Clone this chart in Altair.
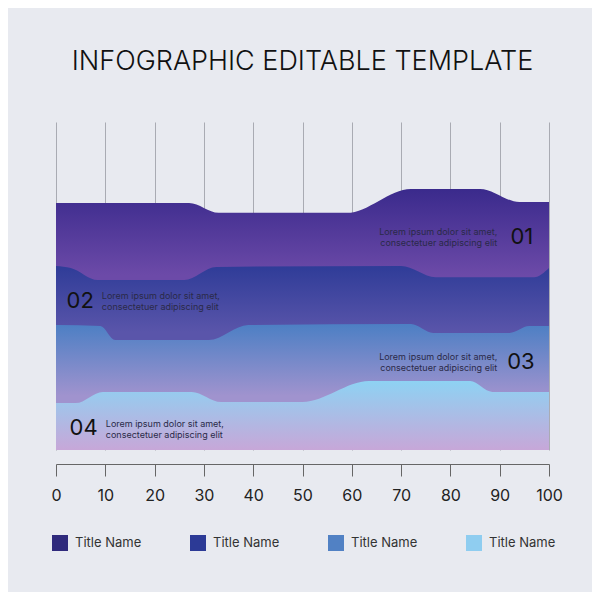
import altair as alt
import pandas as pd

title_text = "INFOGRAPHIC EDITABLE TEMPLATE"
x_ticks = [0, 10, 20, 30, 40, 50, 60, 70, 80, 90, 100]

# top boundary of each layer (height above baseline, 0-100 scale)
l1_x = [0, 27, 33, 59, 72, 86, 94, 100]
l1_y = [75.3, 75.3, 72.3, 72.3, 79.6, 79.6, 75.6, 75.6]
l2_x = [0, 3, 8.5, 26, 32.5, 70, 77, 97, 100]
l2_y = [56.1, 55.5, 51.8, 51.8, 55.8, 56.1, 52.7, 52.7, 55.5]
l3_x = [0, 9, 12, 31, 39, 72, 76.5, 92, 96, 100]
l3_y = [38.1, 37.8, 33.5, 33.5, 38.1, 38.4, 35.7, 35.7, 37.8, 37.8]
l4_x = [0, 4, 9.5, 27.5, 33.5, 50, 63.5, 84, 88.5, 100]
l4_y = [14.3, 14.3, 17.7, 17.7, 14.6, 14.6, 21.0, 21.0, 17.7, 17.7]

legend_keys = ["s1", "s2", "s3", "s4"]
legend_label = "Title Name"
legend_colors = ["#2f2a7c", "#2c3a96", "#5181c4", "#8fcdf0"]

num_text = ["01", "02", "03", "04"]
num_x = [94.5, 4.9, 94.3, 5.6]
num_y = [64.9, 45.4, 26.8, 6.7]

lorem_lines = ["Lorem ipsum dolor sit amet,", "consectetuer adipiscing elit"]
right_x = [89.5, 89.5, 89.5, 89.5]
right_y = [66.5, 63.1, 28.4, 25.0]
left_x = [9.3, 9.3, 10.1, 10.1]
left_y = [47.0, 43.6, 7.9, 4.6]

FONT = "Inter"

X = alt.X("x:Q", scale=alt.Scale(domain=[0, 100], nice=False),
          axis=alt.Axis(values=x_ticks, title=None, grid=True, gridColor="#a9abb3",
                        gridWidth=1, offset=14,
                        domainColor="#666666", tickColor="#666666", tickSize=12,
                        labelFontSize=16, labelColor="#222222", labelFont=FONT,
                        labelPadding=11, format="d", labelFlush=False))
Y = alt.Y("y:Q", scale=alt.Scale(domain=[0, 100], nice=False), axis=None)

legend_layer = alt.Chart(pd.DataFrame({"k": legend_keys, "x": [50] * 4, "y": [40] * 4})).mark_square(
    size=1).encode(
    x=X, y=Y,
    color=alt.Color("k:N", scale=alt.Scale(domain=legend_keys, range=legend_colors),
                    legend=alt.Legend(title=None, orient="none", legendX=-5, legendY=412,
                                      direction="horizontal", columnPadding=47,
                                      symbolType="square", symbolSize=256, symbolOpacity=1,
                                      labelFontSize=13, labelFont=FONT,
                                      labelColor="#333333", labelOffset=6,
                                      labelExpr="'" + legend_label + "'")))


def grad(c_top, c_bot, off):
    return {"gradient": "linear", "x1": 0, "x2": 0, "y1": 0, "y2": 1,
            "stops": [{"color": c_top, "offset": 0},
                      {"color": c_bot, "offset": off},
                      {"color": c_bot, "offset": 1}]}


def area(xs, ys, g):
    return alt.Chart(pd.DataFrame({"x": xs, "y": ys})).mark_area(
        interpolate="monotone", color=g).encode(x=X, y=Y)


a1 = area(l1_x, l1_y, grad("#3a2a8c", "#6c4aa8", 0.33))
a2 = area(l2_x, l2_y, grad("#2f3c98", "#5a55aa", 0.36))
a3 = area(l3_x, l3_y, grad("#4c7fc4", "#a093ce", 0.57))
a4 = area(l4_x, l4_y, grad("#8ed2f3", "#c7a7d8", 0.999))

nums = alt.Chart(pd.DataFrame({"t": num_text, "x": num_x, "y": num_y})).mark_text(
    fontSize=22, font=FONT, color="#111111", align="center", baseline="middle").encode(
    x=X, y=Y, text="t:N")

txt_r = alt.Chart(pd.DataFrame({"t": lorem_lines * 2, "x": right_x, "y": right_y})).mark_text(
    fontSize=9, font=FONT, color="#2a2a48", align="right", baseline="middle").encode(
    x=X, y=Y, text="t:N")
txt_l = alt.Chart(pd.DataFrame({"t": lorem_lines * 2, "x": left_x, "y": left_y})).mark_text(
    fontSize=9, font=FONT, color="#2a2a48", align="left", baseline="middle").encode(
    x=X, y=Y, text="t:N")

chart = alt.layer(legend_layer, a1, a2, a3, a4, nums, txt_r, txt_l).properties(
    width=493, height=328,
    autosize=alt.AutoSizeParams(type="none"),
    padding={"left": 48, "top": 114, "right": 43, "bottom": 142},
    title=alt.TitleParams(title_text, fontSize=27, font=FONT, fontWeight=300,
                          color="#111111", anchor="middle", offset=46),
).configure(background="#e8eaf0").configure_view(strokeWidth=0)

chart.save("out.html", embed_options={"renderer": "svg", "actions": False})
